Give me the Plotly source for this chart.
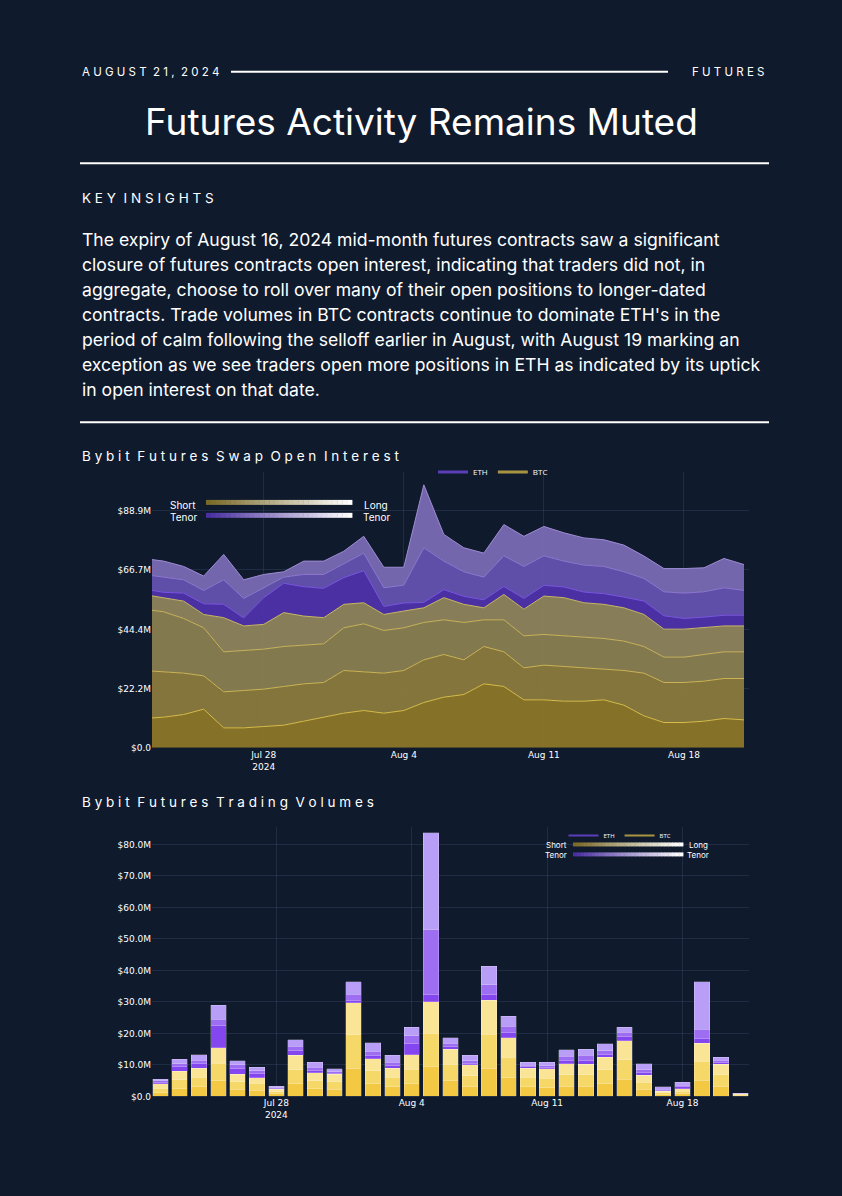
import plotly.graph_objects as go
import pandas as pd

W, H = 842, 1196
BG = "#101a2d"
days = pd.date_range("2024-07-22", "2024-08-21", freq="D")

# ---- Open interest: cumulative boundaries ($M) ----
btc_c1 = [11,11.5,12.5,14.5,7.5,7.5,8,8.5,10,11.5,13,14,13,14,17,19,20,24,23,18,18,17.5,17.5,18,16,12,9.5,9.5,10,11,10.5]
btc_c2 = [29,28.5,28,27,21,21.5,22,23,24,24.5,29,28.5,28,29,33,35,33,38,36,30,31,30.5,30,29.5,29,28,24.5,24.5,25,26,26]
btc_c3 = [52,51,48.5,45,36,36.5,37,38,38.5,39,45,46.5,44,45,47,48,47,48,48,42,42.5,42,41.5,41,40,38,34,34,35,36,36]
btc_top = [57.5,56.3,55,50,48.8,45.7,46.3,50.7,49.4,48.8,53.8,54.4,50,51.3,52.5,56.3,53.8,52.5,57.5,52,56.9,56.3,54.4,53.8,52.5,50,44.5,44.5,45,45.7,45.7]
eth_c1 = [59.5,58.3,58,54,53.8,48.7,56.3,61.7,60.4,59.8,63.8,66.4,53,54.3,54.5,59.3,56.8,55.5,60.5,56,60.9,60.3,58.4,57.8,56.5,55,49.5,48.5,49,49.7,49.7]
eth_c2 = [65,64,63,59,63,56,60,64,65,65,69,73,60,61,75,70,66,64,72,68,72,70,68.5,68,66,63.5,58.5,58,58.5,60,59]
oi_total = [71,70,68,64.4,72.5,63,65,66,70,70,73.7,79.3,67.7,67.7,98.6,80,75,73,83.7,79.3,83,80.6,78.7,78,76,71.9,67.2,67.2,67.5,71,68.7]

# ---- Trading volumes ($M) by tenor ----
vb1 = [1.2,2.5,3,5,2.2,2,0.8,4,2.4,2.2,9,4,3,4,9.5,5,3,9,6,3,2.8,3.2,3.2,4,5.5,2.2,0.5,0.8,5.2,3.2,0.2]
vb2 = [1.4,2.8,3.1,5.5,2.4,2.1,0.7,4.5,2.6,2.4,10.5,4.2,3.1,4.7,10.5,5.2,3.5,10.8,6.5,3.1,3,3.6,3.6,4.4,6.2,2.3,0.6,0.9,5.9,3.6,0.3]
vb3 = [1.4,2.7,2.9,5,2.4,1.9,0.7,4.5,2.5,2.4,10.3,3.8,2.9,4.6,10,4.8,3.5,10.7,6.2,2.9,3,3.5,3.4,4.1,5.9,2.2,0.5,0.8,5.7,3.4,0.3]
ve1 = [0.5,1.5,1.3,7,2,1.3,0.3,1.5,0.8,0.3,0.8,1,0.8,3.5,2.5,0.8,0.6,2,1.5,0.4,0.5,1.2,1.3,0.8,1.5,0.8,0.3,0.5,1.5,0.6,0]
ve2 = [0.4,0.8,1.2,2,1,0.8,0.3,1.5,0.9,0.5,1.8,1.4,1,2.5,20.5,1,0.8,3,2,0.5,0.5,1.3,1.5,1.2,1.2,0.9,0.4,0.5,3,0.7,0]
ve3 = [0.6,1.5,1.7,4.4,1.4,1.1,0.5,2,1.6,1,4,2.6,2.2,2.7,30.8,1.8,1.6,5.9,3.2,1,1.1,2,2,2.2,1.7,1.9,0.7,1,15.1,1,0.2]

paragraph = [
    "The expiry of August 16, 2024 mid-month futures contracts saw a significant",
    "closure of futures contracts open interest, indicating that traders did not, in",
    "aggregate, choose to roll over many of their open positions to longer-dated",
    "contracts. Trade volumes in BTC contracts continue to dominate ETH's in the",
    "period of calm following the selloff earlier in August, with August 19 marking an",
    "exception as we see traders open more positions in ETH as indicated by its uptick",
    "in open interest on that date.",
]

fig = go.Figure()

layers = [
    (btc_c1, "rgba(140,118,40,0.95)", "#d8bd4a"),
    (btc_c2, "rgba(138,122,60,0.95)", "#cdb556"),
    (btc_c3, "rgba(138,126,80,0.95)", "#c8b45c"),
    (btc_top, "rgba(142,132,92,0.95)", "#c9b866"),
    (eth_c1, "rgba(78,50,170,0.95)", "#7a55e0"),
    (eth_c2, "rgba(100,82,175,0.95)", "#8e78d0"),
    (oi_total, "rgba(122,106,180,0.95)", "#9d8cd2"),
]
for i, (ys, fc, lc) in enumerate(layers):
    fig.add_trace(go.Scatter(x=days, y=ys, mode="lines", line=dict(color=lc, width=1),
                             fill="tozeroy" if i == 0 else "tonexty", fillcolor=fc,
                             showlegend=False, hoverinfo="skip", xaxis="x", yaxis="y"))
fig.add_trace(go.Scatter(x=[None], y=[None], mode="lines", name="ETH", line=dict(color="#5a3db8", width=3), legend="legend"))
fig.add_trace(go.Scatter(x=[None], y=[None], mode="lines", name="BTC", line=dict(color="#a89440", width=3), legend="legend"))

bars = [(vb1, "#f3c944"), (vb2, "#f6d869"), (vb3, "#fae596"),
        (ve1, "#8446ee"), (ve2, "#9d6ef2"), (ve3, "#b89ef6")]
for ys, c in bars:
    fig.add_trace(go.Bar(x=days, y=ys, marker=dict(color=c, line=dict(color="rgba(255,255,255,0.35)", width=0.6)),
                         showlegend=False, hoverinfo="skip", xaxis="x2", yaxis="y2"))
fig.add_trace(go.Scatter(x=[None], y=[None], mode="lines", name="ETH", line=dict(color="#5a3db8", width=2), legend="legend2", xaxis="x2", yaxis="y2"))
fig.add_trace(go.Scatter(x=[None], y=[None], mode="lines", name="BTC", line=dict(color="#a89440", width=2), legend="legend2", xaxis="x2", yaxis="y2"))

def px(x): return x / W
def py(y): return 1 - y / H

ann = []
shapes = []
def text(x, y, t, size, anchor="left", color="white", family="Inter"):
    ann.append(dict(x=px(x), y=py(y), xref="paper", yref="paper", text=t, showarrow=False,
                    xanchor=anchor, yanchor="middle", font=dict(size=size, color=color, family=family)))
def hline(x0, x1, y, w=2):
    shapes.append(dict(type="line", xref="paper", yref="paper", x0=px(x0), x1=px(x1), y0=py(y), y1=py(y),
                       line=dict(color="white", width=w)))

text(80, 72, "A U G U S T  2 1 ,  2 0 2 4", 11.5)
text(766, 72, "F U T U R E S", 11.5, "right")
hline(231, 668, 72)
text(421, 122, "Futures Activity Remains Muted", 37, "center")
hline(80, 769, 164)
text(80, 199, "K E Y  I N S I G H T S", 13.5)
for i, line in enumerate(paragraph):
    text(80, 241 + i * 25, line, 17.6)
hline(80, 769, 424)
text(80, 458, "B y b i t  F u t u r e s  S w a p  O p e n  I n t e r e s t".replace("  ", "&nbsp;&nbsp;"), 13.5)
text(80, 805, "B y b i t  F u t u r e s  T r a d i n g  V o l u m e s".replace("  ", "&nbsp;&nbsp;"), 13.5)

def grad(x0, x1, y0, y1, c0, n=30):
    for k in range(n):
        t = k / (n - 1)
        r = int(c0[0] + (255 - c0[0]) * t); g = int(c0[1] + (255 - c0[1]) * t); b = int(c0[2] + (255 - c0[2]) * t)
        xa = x0 + (x1 - x0) * k / n; xb = x0 + (x1 - x0) * (k + 1) / n
        shapes.append(dict(type="rect", xref="paper", yref="paper", x0=px(xa), x1=px(xb) + 0.0005,
                           y0=py(y1), y1=py(y0), line=dict(width=0), fillcolor=f"rgb({r},{g},{b})"))

grad(206, 352, 502, 507, (122, 106, 40))
grad(206, 352, 515, 520, (74, 47, 160))
text(183, 507, "Short", 10, "center"); text(183, 519, "Tenor", 10, "center")
text(376, 507, "Long", 10, "center"); text(376, 519, "Tenor", 10, "center")
grad(573, 683, 846, 850, (122, 106, 40))
grad(573, 683, 856, 860, (74, 47, 160))
text(556, 849, "Short", 8, "center"); text(556, 859, "Tenor", 8, "center")
text(698, 849, "Long", 8, "center"); text(698, 859, "Tenor", 8, "center")

axfont = dict(size=9, color="white", family="DejaVu Sans")
grid = "rgba(80,100,140,0.25)"
fig.update_layout(
    width=W, height=H, margin=dict(l=0, r=0, t=0, b=0),
    paper_bgcolor=BG, plot_bgcolor=BG, annotations=ann, shapes=shapes, barmode="stack", bargap=0.2,
    xaxis=dict(domain=[px(152), px(749)], anchor="y", range=["2024-07-22 10:00", "2024-08-21 06:00"],
               tickvals=["2024-07-28", "2024-08-04", "2024-08-11", "2024-08-18"],
               ticktext=["Jul 28<br>2024", "Aug 4", "Aug 11", "Aug 18"], tickfont=axfont,
               gridcolor=grid, showline=False, zeroline=False),
    yaxis=dict(domain=[py(751), py(474)], anchor="x", range=[0, 103.4],
               tickvals=[0, 22.2, 44.4, 66.7, 88.9], ticktext=["$0.0", "$22.2M", "$44.4M", "$66.7M", "$88.9M"],
               tickfont=axfont, gridcolor=grid, zeroline=False),
    xaxis2=dict(domain=[px(152), px(749)], anchor="y2", range=["2024-07-21 13:40", "2024-08-21 10:30"],
                tickvals=["2024-07-28", "2024-08-04", "2024-08-11", "2024-08-18"],
                ticktext=["Jul 28<br>2024", "Aug 4", "Aug 11", "Aug 18"], tickfont=axfont,
                gridcolor=grid, showline=False, zeroline=False),
    yaxis2=dict(domain=[py(1101), py(830)], anchor="x2", range=[0, 85.7],
                tickvals=[0, 10, 20, 30, 40, 50, 60, 70, 80],
                ticktext=["$0.0", "$10.0M", "$20.0M", "$30.0M", "$40.0M", "$50.0M", "$60.0M", "$70.0M", "$80.0M"],
                tickfont=axfont, gridcolor=grid, zeroline=False),
    legend=dict(orientation="h", x=px(493), y=py(474), xanchor="center", yanchor="middle", traceorder="normal",
                font=dict(size=8, color="white"), bgcolor="rgba(0,0,0,0)"),
    legend2=dict(orientation="h", x=px(620), y=py(839), xanchor="center", yanchor="middle", traceorder="normal",
                 font=dict(size=6, color="white"), bgcolor="rgba(0,0,0,0)"),
)
fig.write_html("out.html", config={"displayModeBar": False},
               post_script="document.body.style.margin='0';document.body.style.background='#101a2d';document.body.style.overflow='hidden';")
